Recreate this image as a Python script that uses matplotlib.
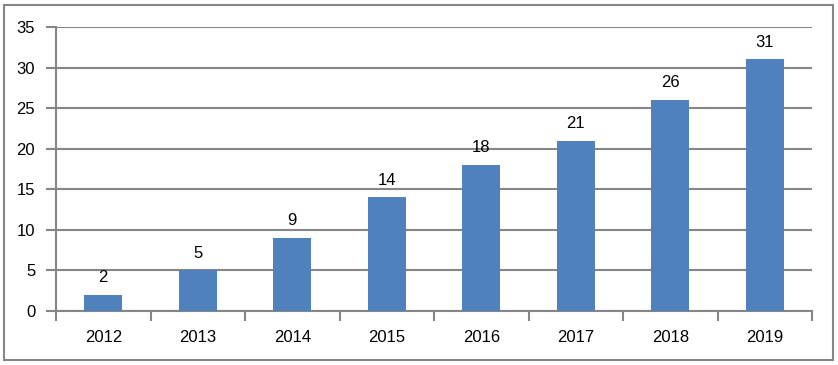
import matplotlib
matplotlib.use('Agg')
import matplotlib.pyplot as plt
from matplotlib.patches import Rectangle

years = ['2012', '2013', '2014', '2015', '2016', '2017', '2018', '2019']
counts = [2, 5, 9, 14, 18, 21, 26, 31]

plt.rcParams['font.family'] = ['Liberation Sans', 'DejaVu Sans']
grey = '#868686'

fig = plt.figure(figsize=(8.38, 3.65), dpi=100)
# outer frame like the excel chart area
fig.patches.append(Rectangle((4/838, 5/365), 829/838, 355/365, transform=fig.transFigure,
                             fill=False, edgecolor=grey, linewidth=1.5))
ax = fig.add_axes([56/838, 54/365, 756/838, 284/365])

x = list(range(len(years)))
ax.bar(x, counts, width=0.4, color='#4F81BD', zorder=3)
for xi, c in zip(x, counts):
    ax.text(xi, c + 1.2, str(c), ha='center', va='bottom', fontsize=12)

ax.set_xlim(-0.5, len(years) - 0.5)
ax.set_ylim(0, 35)
ax.set_yticks(range(0, 36, 5))
ax.grid(axis='y', color=grey, linewidth=1.5, zorder=0)
ax.set_xticks(x)
ax.set_xticklabels(years, fontsize=12)
ax.set_xticks([i - 0.5 for i in range(len(years) + 1)], minor=True)
ax.tick_params(axis='x', which='major', length=0, pad=14)
ax.tick_params(axis='x', which='minor', length=7, width=1.5, color=grey)
ax.tick_params(axis='y', length=7, width=1.5, color=grey, labelsize=12, pad=8)
for s in ['top', 'right']:
    ax.spines[s].set_visible(False)
for s in ['left', 'bottom']:
    ax.spines[s].set_color(grey)
    ax.spines[s].set_linewidth(1.5)

fig.savefig('out.png', dpi=100)
